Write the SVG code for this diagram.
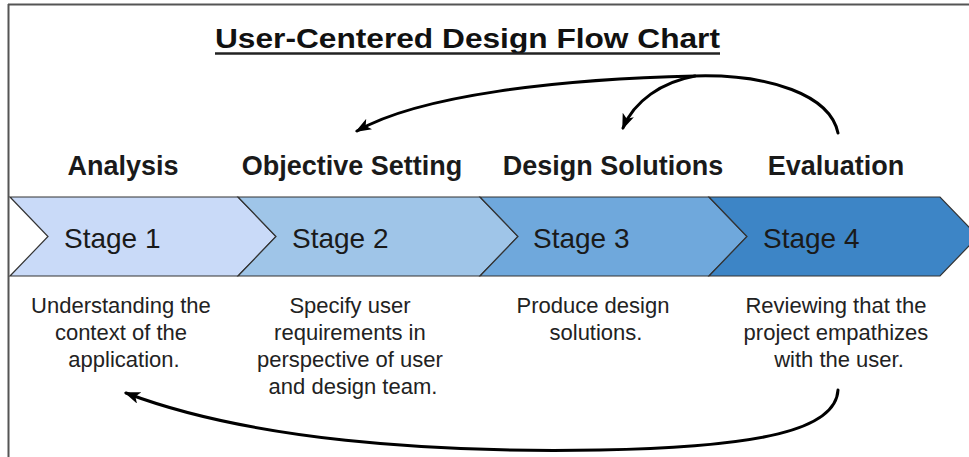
<svg xmlns="http://www.w3.org/2000/svg" width="969" height="457" viewBox="0 0 969 457">
  <style>
    .frame { stroke: #555; stroke-width: 2; fill: none; }
    .chev { stroke: #333; stroke-width: 1.2; stroke-linejoin: miter; }
    .title { font-family: "Liberation Sans", Arial, sans-serif; font-weight: bold; font-size: 28px; fill: #111; }
    .head { font-family: "Liberation Sans", Arial, sans-serif; font-weight: bold; font-size: 27px; fill: #1a1a1a; text-anchor: middle; }
    .stage { font-family: "Liberation Sans", Arial, sans-serif; font-size: 28px; fill: #1a1a1a; }
    .desc { font-family: "Liberation Sans", Arial, sans-serif; font-size: 22px; fill: #222; text-anchor: middle; }
    .flow { stroke: #000; stroke-width: 3; fill: none; stroke-linecap: round; }
  </style>
  <defs>
    <marker id="arrow" viewBox="0 0 16 12" refX="14" refY="6" markerWidth="16" markerHeight="12" markerUnits="userSpaceOnUse" orient="auto">
      <path d="M0,0 L16,6 L0,12 L4,6 Z" fill="#000"/>
    </marker>
  </defs>

  <rect width="969" height="457" fill="#fff"/>

  <!-- page frame -->
  <g id="frame">
    <line class="frame" x1="8" y1="4.5" x2="969" y2="4.5"/>
    <line class="frame" x1="8.5" y1="4" x2="8.5" y2="457"/>
  </g>

  <!-- heading -->
  <g id="title">
    <text class="title" x="215" y="48" textLength="505" lengthAdjust="spacingAndGlyphs">User-Centered Design Flow Chart</text>
    <line x1="215" y1="53.5" x2="720" y2="53.5" stroke="#222" stroke-width="2.5"/>
  </g>

  <!-- stage 1 -->
  <g id="stage1">
    <text class="head" x="123" y="175">Analysis</text>
    <path class="chev" fill="#c9daf8" d="M10,197 L238,197 L276,236.5 L238,276 L10,276 L48,236.5 Z"/>
    <text class="stage" x="64" y="248">Stage 1</text>
    <text class="desc" x="124">
      <tspan x="124" y="313">Understanding the</tspan>
      <tspan x="124" y="340">context of the</tspan>
      <tspan x="124" y="367">application.</tspan>
    </text>
  </g>

  <!-- stage 2 -->
  <g id="stage2">
    <text class="head" x="352" y="175">Objective Setting</text>
    <path class="chev" fill="#9fc5e8" d="M238,197 L480,197 L518,236.5 L480,276 L238,276 L276,236.5 Z"/>
    <text class="stage" x="292" y="248">Stage 2</text>
    <text class="desc" x="353">
      <tspan x="353" y="313">Specify user</tspan>
      <tspan x="353" y="340">requirements in</tspan>
      <tspan x="353" y="367">perspective of user</tspan>
      <tspan x="353" y="394">and design team.</tspan>
    </text>
  </g>

  <!-- stage 3 -->
  <g id="stage3">
    <text class="head" x="613" y="175">Design Solutions</text>
    <path class="chev" fill="#6fa8dc" d="M480,197 L709,197 L747,236.5 L709,276 L480,276 L518,236.5 Z"/>
    <text class="stage" x="533" y="248">Stage 3</text>
    <text class="desc" x="596">
      <tspan x="596" y="313">Produce design</tspan>
      <tspan x="596" y="340">solutions.</tspan>
    </text>
  </g>

  <!-- stage 4 -->
  <g id="stage4">
    <text class="head" x="836" y="175">Evaluation</text>
    <path class="chev" fill="#3d85c6" d="M709,197 L940,197 L978,236.5 L940,276 L709,276 L747,236.5 Z"/>
    <text class="stage" x="763" y="248">Stage 4</text>
    <text class="desc" x="839">
      <tspan x="839" y="313">Reviewing that the</tspan>
      <tspan x="839" y="340">project empathizes</tspan>
      <tspan x="839" y="367">with the user.</tspan>
    </text>
  </g>

  <!-- feedback loops -->
  <g id="connectors">
    <path class="flow" marker-end="url(#arrow)" d="M838,133 C830,95 770,74 695,76 C560,79 420,95 357,131"/>
    <path class="flow" marker-end="url(#arrow)" d="M695,76 C662,82 634,101 623,128"/>
    <path class="flow" marker-end="url(#arrow)" d="M838,390 C836,430 760,447 600,450 C430,453 250,440 126,393"/>
  </g>
</svg>
